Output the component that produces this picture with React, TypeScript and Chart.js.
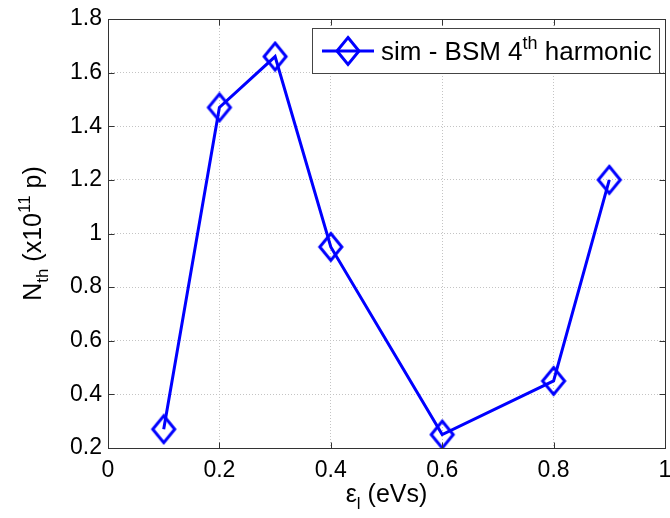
import React, { useEffect, useRef } from "react";
import { Chart, registerables } from "chart.js";

Chart.register(...registerables);

const xValues = [0.1, 0.2, 0.3, 0.4, 0.6, 0.8, 0.9];
const yValues = [0.27, 1.47, 1.66, 0.95, 0.25, 0.45, 1.2];
const xTickValues = [0, 0.2, 0.4, 0.6, 0.8, 1];
const yTickValues = [0.2, 0.4, 0.6, 0.8, 1, 1.2, 1.4, 1.6, 1.8];
const seriesLabel = "sim - BSM 4";
const seriesLabelSup = "th";
const seriesLabelTail = " harmonic";

const FONT = "'Liberation Sans', Arial, sans-serif";
const BLUE = "#0000ff";

function makeDiamond(): HTMLCanvasElement {
  const c = document.createElement("canvas");
  c.width = 28;
  c.height = 32;
  const g = c.getContext("2d")!;
  g.strokeStyle = BLUE;
  g.lineWidth = 3;
  g.lineJoin = "miter";
  g.beginPath();
  g.moveTo(14, 2.5);
  g.lineTo(25, 16);
  g.lineTo(14, 29.5);
  g.lineTo(3, 16);
  g.closePath();
  g.stroke();
  return c;
}

type Piece = { t: string; size: number; dy: number };

function drawPieces(ctx: CanvasRenderingContext2D, pieces: Piece[], x: number, y: number, center: boolean) {
  let total = 0;
  for (const p of pieces) {
    ctx.font = `${p.size}px ${FONT}`;
    total += ctx.measureText(p.t).width;
  }
  let cx = center ? x - total / 2 : x;
  ctx.textBaseline = "alphabetic";
  ctx.textAlign = "left";
  for (const p of pieces) {
    ctx.font = `${p.size}px ${FONT}`;
    ctx.fillText(p.t, cx, y + p.dy);
    cx += ctx.measureText(p.t).width;
  }
}

export default function App() {
  const ref = useRef<HTMLCanvasElement | null>(null);
  useEffect(() => {
    document.body.style.margin = "0";
    const canvas = ref.current!;
    const diamond = makeDiamond();

    const decor = {
      id: "decor",
      afterDraw(chart: any) {
        const ctx: CanvasRenderingContext2D = chart.ctx;
        const a = chart.chartArea;
        const xs = chart.scales.x;
        const ys = chart.scales.y;
        ctx.save();
        ctx.setLineDash([]);
        // box
        ctx.strokeStyle = "#333";
        ctx.lineWidth = 1;
        const L0 = Math.round(a.left) + 0.5;
        const R0 = Math.round(a.right) + 0.5;
        const T0 = Math.round(a.top) + 0.5;
        const B0 = Math.round(a.bottom) + 0.5;
        ctx.strokeRect(L0, T0, R0 - L0, B0 - T0);
        // inward ticks
        const L = 6;
        ctx.beginPath();
        for (const v of xTickValues) {
          const px = Math.round(xs.getPixelForValue(v)) + 0.5;
          ctx.moveTo(px, B0);
          ctx.lineTo(px, B0 - L);
          ctx.moveTo(px, T0);
          ctx.lineTo(px, T0 + L);
        }
        for (const v of yTickValues) {
          const py = Math.round(ys.getPixelForValue(v)) + 0.5;
          ctx.moveTo(L0, py);
          ctx.lineTo(L0 + L, py);
          ctx.moveTo(R0, py);
          ctx.lineTo(R0 - L, py);
        }
        ctx.stroke();

        // axis titles
        ctx.fillStyle = "#000";
        drawPieces(
          ctx,
          [
            { t: "ε", size: 25, dy: 0 },
            { t: "l", size: 17, dy: 7 },
            { t: " (eVs)", size: 25, dy: 0 },
          ],
          (a.left + a.right) / 2,
          502,
          true
        );
        ctx.save();
        ctx.translate(41, (a.top + a.bottom) / 2);
        ctx.rotate(-Math.PI / 2);
        drawPieces(
          ctx,
          [
            { t: "N", size: 25, dy: 0 },
            { t: "th", size: 17, dy: 7 },
            { t: " (x10", size: 25, dy: 0 },
            { t: "11", size: 17, dy: -11 },
            { t: " p)", size: 25, dy: 0 },
          ],
          0,
          0,
          true
        );
        ctx.restore();

        // legend
        const lx = 312.5, ly = 28.5, lw = 347, lh = 45;
        ctx.fillStyle = "#fff";
        ctx.fillRect(lx, ly, lw, lh);
        ctx.strokeStyle = "#444";
        ctx.lineWidth = 1;
        ctx.strokeRect(lx, ly, lw, lh);
        const cy = ly + lh / 2;
        ctx.strokeStyle = BLUE;
        ctx.lineWidth = 3;
        ctx.beginPath();
        ctx.moveTo(322, cy);
        ctx.lineTo(374, cy);
        ctx.stroke();
        ctx.drawImage(diamond, 348 - diamond.width / 2, cy - diamond.height / 2);
        ctx.fillStyle = "#000";
        drawPieces(
          ctx,
          [
            { t: seriesLabel, size: 26, dy: 0 },
            { t: seriesLabelSup, size: 18, dy: -11 },
            { t: seriesLabelTail, size: 26, dy: 0 },
          ],
          381,
          cy + 9,
          false
        );
        ctx.restore();
      },
    };

    const fmt = (v: any) => String(+Number(v).toFixed(1));

    const chart = new Chart(canvas, {
      type: "line",
      data: {
        datasets: [
          {
            label: seriesLabel + seriesLabelSup + seriesLabelTail,
            data: xValues.map((x, i) => ({ x, y: yValues[i] })),
            borderColor: BLUE,
            borderWidth: 3,
            pointStyle: diamond as any,
            pointRadius: 12,
            pointHoverRadius: 12,
            tension: 0,
            fill: false,
          },
        ],
      },
      options: {
        animation: false,
        responsive: false,
        devicePixelRatio: 1,
        events: [],
        layout: { padding: { top: 19, right: 0, left: 0, bottom: 0 } },
        plugins: { legend: { display: false }, tooltip: { enabled: false } },
        scales: {
          x: {
            type: "linear",
            min: 0,
            max: 1,
            afterBuildTicks: (s: any) => {
              s.ticks = xTickValues.map((value) => ({ value }));
            },
            afterFit: (s: any) => {
              s.height = 70;
              s.paddingLeft = 0;
              s.paddingRight = 0;
            },
            ticks: {
              callback: fmt,
              color: "#000",
              font: { family: FONT, size: 23 },
              padding: 9,
              maxRotation: 0,
              autoSkip: false,
            },
            grid: {
              color: "#c4c4c4",
              drawTicks: false,
            },
            border: { display: false, color: "#333", width: 1, dash: [1, 2] },
          },
          y: {
            type: "linear",
            min: 0.2,
            max: 1.8,
            afterBuildTicks: (s: any) => {
              s.ticks = yTickValues.map((value) => ({ value }));
            },
            afterFit: (s: any) => {
              s.width = 108;
              s.paddingTop = 0;
              s.paddingBottom = 0;
            },
            ticks: {
              callback: fmt,
              color: "#000",
              font: { family: FONT, size: 23 },
              padding: 6,
              autoSkip: false,
            },
            grid: {
              color: "#c4c4c4",
              drawTicks: false,
            },
            border: { display: false, color: "#333", width: 1, dash: [1, 2] },
          },
        },
      } as any,
      plugins: [decor],
    });
    return () => chart.destroy();
  }, []);
  return (
    <div
      style={{
        position: "absolute",
        left: 0,
        top: 0,
        width: 670,
        height: 518,
        overflow: "hidden",
        background: "#fff",
      }}
    >
      <canvas ref={ref} width={680} height={518} style={{ display: "block" }} />
    </div>
  );
}
